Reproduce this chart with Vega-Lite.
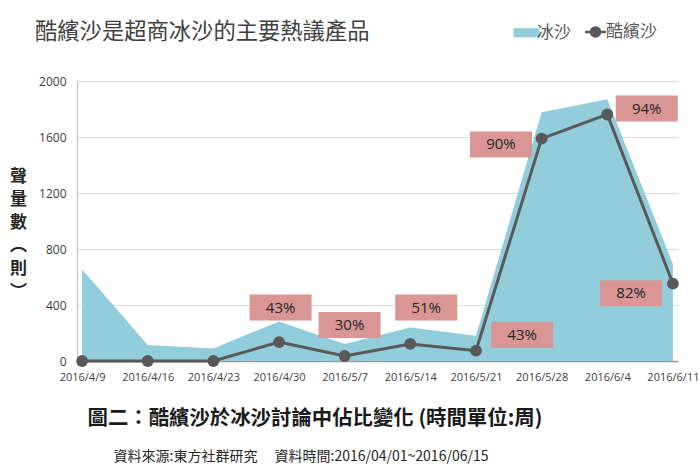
{
  "$schema": "https://vega.github.io/schema/vega-lite/v6.json",
  "width": 700,
  "height": 473,
  "autosize": {"type": "fit", "contains": "padding"},
  "padding": {"left": 9, "right": 1, "top": 20, "bottom": 10},
  "background": "white",
  "config": {"view": {"stroke": null}, "font": "Noto Sans CJK TC"},
  "title": {
    "text": "酷繽沙是超商冰沙的主要熱議產品",
    "anchor": "start",
    "frame": "group",
    "dx": -42,
    "offset": 32,
    "fontSize": 22.3,
    "fontWeight": "normal",
    "font": "Noto Sans CJK TC",
    "color": "#404040"
  },
  "datasets": {
    "main": [
      {"date": "2016/04/09", "series": "冰沙", "value": 656},
      {"date": "2016/04/16", "series": "冰沙", "value": 115},
      {"date": "2016/04/23", "series": "冰沙", "value": 90},
      {"date": "2016/04/30", "series": "冰沙", "value": 283},
      {"date": "2016/05/07", "series": "冰沙", "value": 122},
      {"date": "2016/05/14", "series": "冰沙", "value": 240},
      {"date": "2016/05/21", "series": "冰沙", "value": 180},
      {"date": "2016/05/28", "series": "冰沙", "value": 1776},
      {"date": "2016/06/04", "series": "冰沙", "value": 1870},
      {"date": "2016/06/11", "series": "冰沙", "value": 693},
      {"date": "2016/04/09", "series": "酷繽沙", "value": 0},
      {"date": "2016/04/16", "series": "酷繽沙", "value": 0},
      {"date": "2016/04/23", "series": "酷繽沙", "value": 0},
      {"date": "2016/04/30", "series": "酷繽沙", "value": 135},
      {"date": "2016/05/07", "series": "酷繽沙", "value": 36},
      {"date": "2016/05/14", "series": "酷繽沙", "value": 122},
      {"date": "2016/05/21", "series": "酷繽沙", "value": 74},
      {"date": "2016/05/28", "series": "酷繽沙", "value": 1588},
      {"date": "2016/06/04", "series": "酷繽沙", "value": 1761},
      {"date": "2016/06/11", "series": "酷繽沙", "value": 553}
    ],
    "labels": [
      {"date": "2016/04/30 04:00", "y": 382, "text": "43%"},
      {"date": "2016/05/07 12:30", "y": 257, "text": "30%"},
      {"date": "2016/05/15 16:40", "y": 382, "text": "51%"},
      {"date": "2016/05/25 22:00", "y": 187, "text": "43%"},
      {"date": "2016/05/23 16:00", "y": 1547, "text": "90%"},
      {"date": "2016/06/08 05:00", "y": 1803, "text": "94%"},
      {"date": "2016/06/06 13:00", "y": 484, "text": "82%"}
    ]
  },
  "layer": [
    {
      "data": {"name": "main"},
      "transform": [{"filter": "datum.series === '冰沙'"}],
      "mark": {"type": "area", "opacity": 1, "interpolate": "linear"},
      "encoding": {
        "x": {
          "field": "date",
          "type": "temporal",
          "scale": {
            "domain": [
              {"year": 2016, "month": 4, "date": 8, "hours": 11},
              {"year": 2016, "month": 6, "date": 11, "hours": 13}
            ]
          },
          "axis": {
            "values": [
              {"year": 2016, "month": 4, "date": 9},
              {"year": 2016, "month": 4, "date": 16},
              {"year": 2016, "month": 4, "date": 23},
              {"year": 2016, "month": 4, "date": 30},
              {"year": 2016, "month": 5, "date": 7},
              {"year": 2016, "month": 5, "date": 14},
              {"year": 2016, "month": 5, "date": 21},
              {"year": 2016, "month": 5, "date": 28},
              {"year": 2016, "month": 6, "date": 4},
              {"year": 2016, "month": 6, "date": 11}
            ],
            "format": "%Y/%-m/%-d",
            "labelFont": "Open Sans",
            "labelFontSize": 11,
            "labelColor": "#404040",
            "labelPadding": 10,
            "labelOverlap": false,
            "labelFlush": false,
            "ticks": false,
            "grid": false,
            "domain": true,
            "domainColor": "#9a9a9a",
            "domainWidth": 1.5,
            "title": "圖二：酷繽沙於冰沙討論中佔比變化 (時間單位:周)",
            "titleFont": "Noto Sans CJK TC",
            "titleFontSize": 20.4,
            "titleFontWeight": "bold",
            "titleColor": "#1a1a1a",
            "titleAlign": "left",
            "titleAnchor": "start",
            "titleBaseline": "middle",
            "titleX": 10,
            "titleY": 57
          }
        },
        "y": {
          "field": "value",
          "type": "quantitative",
          "scale": {"domain": [0, 2000], "nice": false, "zero": true},
          "axis": {
            "values": [0, 400, 800, 1200, 1600, 2000],
            "format": "d",
            "labelFont": "Open Sans",
            "labelFontSize": 12,
            "labelColor": "#404040",
            "labelPadding": 11,
            "ticks": false,
            "grid": true,
            "gridColor": "#d9d9d9",
            "domain": true,
            "domainColor": "#bfbfbf",
            "title": ["聲", "量", "數", "︵", "則", "︶"],
            "titleFont": "Noto Sans CJK TC",
            "titleFontSize": 17,
            "titleFontWeight": "bold",
            "titleColor": "#262626",
            "titleAngle": 0,
            "titleAlign": "center",
            "titleBaseline": "top",
            "titleLineHeight": 23,
            "titleX": -59,
            "titleY": 87
          }
        },
        "color": {
          "field": "series",
          "type": "nominal",
          "scale": {"domain": ["冰沙", "酷繽沙"], "range": ["#92cddc", "#595959"]},
          "legend": {
            "orient": "none",
            "legendX": 441,
            "legendY": -58,
            "direction": "horizontal",
            "title": null,
            "padding": 0,
            "labelFont": "Noto Sans CJK TC",
            "labelFontSize": 17,
            "labelColor": "#595959",
            "labelOffset": 2,
            "columnPadding": 9,
            "symbolSize": 676,
            "symbolOpacity": 1,
            "encode": {
              "symbols": {
                "update": {
                  "shape": {"signal": "datum.value === '冰沙' ? 'M-1,-0.35H1V0.35H-1Z' : 'M-0.8,0H0.8M0.35,0A0.35,0.35,0,1,1,-0.35,0A0.35,0.35,0,1,1,0.35,0'"},
                  "fill": {"scale": "color", "field": "value"},
                  "stroke": {"scale": "color", "field": "value"},
                  "strokeWidth": {"signal": "datum.value === '冰沙' ? 0 : 2.5"},
                  "opacity": {"value": 1},
                  "fillOpacity": {"value": 1}
                }
              }
            }
          }
        }
      }
    },
    {
      "data": {"name": "main"},
      "transform": [{"filter": "datum.series === '酷繽沙'"}],
      "mark": {"type": "line", "strokeWidth": 3, "point": {"filled": true, "size": 140, "opacity": 1}},
      "encoding": {
        "x": {
          "field": "date",
          "type": "temporal",
          "axis": {
            "orient": "bottom",
            "labels": false,
            "ticks": false,
            "domain": false,
            "grid": false,
            "title": "資料來源:東方社群研究　 資料時間:2016/04/01~2016/06/15",
            "titleFont": "Noto Sans CJK TC",
            "titleFontSize": 14,
            "titleFontWeight": "normal",
            "titleColor": "#262626",
            "titleAlign": "left",
            "titleAnchor": "start",
            "titleBaseline": "middle",
            "titleX": 36,
            "titleY": 95
          }
        },
        "y": {"field": "value", "type": "quantitative"},
        "color": {"field": "series", "type": "nominal"}
      }
    },
    {
      "data": {"name": "labels"},
      "mark": {"type": "point", "shape": "M-1,-0.42H1V0.42H-1Z", "filled": true, "size": 3844, "color": "#d99694", "opacity": 1, "strokeWidth": 0},
      "encoding": {
        "x": {"field": "date", "type": "temporal", "axis": null},
        "y": {"field": "y", "type": "quantitative"}
      }
    },
    {
      "data": {"name": "labels"},
      "mark": {"type": "text", "font": "Open Sans", "fontSize": 15, "color": "#262626", "baseline": "middle", "align": "center"},
      "encoding": {
        "x": {"field": "date", "type": "temporal", "axis": null},
        "y": {"field": "y", "type": "quantitative"},
        "text": {"field": "text"}
      }
    }
  ],
  "resolve": {"axis": {"x": "independent"}}
}
